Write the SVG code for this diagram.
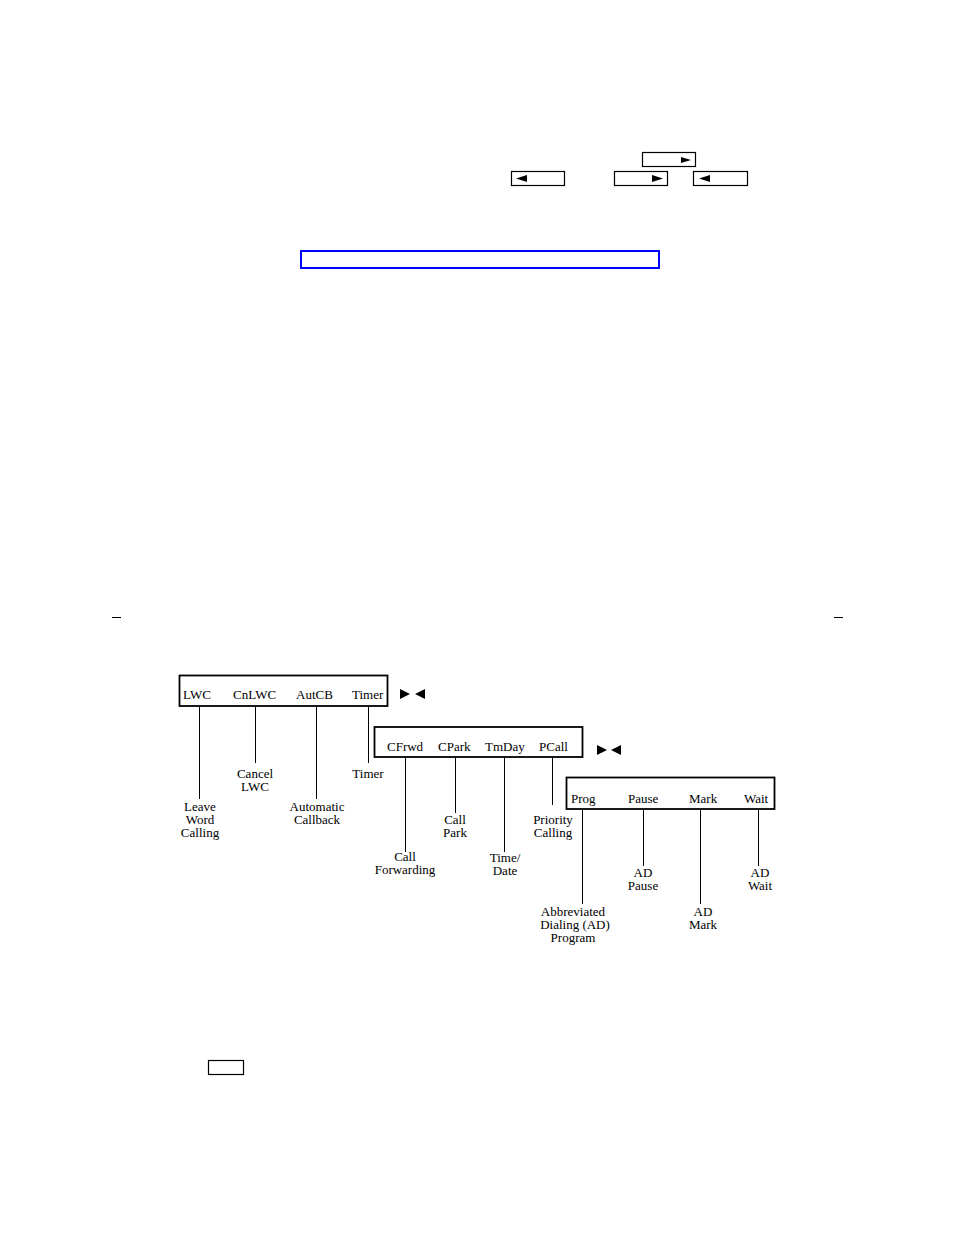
<svg xmlns="http://www.w3.org/2000/svg" width="954" height="1235" viewBox="0 0 954 1235">
<style>
.t{font-family:"Liberation Serif","Times New Roman",serif;font-size:13px;fill:#000}
.c{text-anchor:middle}
.box{fill:none;stroke:#000;stroke-width:1.8}
.sb{fill:none;stroke:#000;stroke-width:1.2}
.ln{stroke:#000;stroke-width:1;fill:none}
.tri{fill:#000}
</style>
<rect width="954" height="1235" fill="#fff"/>
<g id="top-keys">
<rect class="sb" x="642.5" y="152.5" width="53" height="14"/>
<polygon class="tri" points="681,157 691,160 681,163"/>
<rect class="sb" x="511.5" y="171.5" width="53" height="14"/>
<polygon class="tri" points="527,175 516,178.5 527,182"/>
<rect class="sb" x="614.5" y="171.5" width="53" height="14"/>
<polygon class="tri" points="652,175 663,178.5 652,182"/>
<rect class="sb" x="693.5" y="171.5" width="54" height="14"/>
<polygon class="tri" points="710,175 699,178.5 710,182"/>
</g>
<g id="blue-box"><rect x="301" y="251" width="358" height="17" fill="none" stroke="#0000ff" stroke-width="2"/></g>
<g id="marks">
<line class="ln" x1="112" y1="617.5" x2="121" y2="617.5"/>
<line class="ln" x1="834" y1="617.5" x2="843" y2="617.5"/>
</g>
<g id="boxA">
<rect class="box" x="179.5" y="675.5" width="208" height="30.5"/>
<text class="t" x="183" y="699">LWC</text>
<text class="t" x="233" y="699">CnLWC</text>
<text class="t" x="296" y="699">AutCB</text>
<text class="t" x="352" y="699">Timer</text>
<polygon class="tri" points="400,689 410,694 400,699"/>
<polygon class="tri" points="425,689 415,694 425,699"/>
</g>
<g id="boxB">
<rect class="box" x="374.5" y="727" width="208" height="30"/>
<text class="t" x="387" y="751">CFrwd</text>
<text class="t" x="438" y="751">CPark</text>
<text class="t" x="485" y="751">TmDay</text>
<text class="t" x="539" y="751">PCall</text>
<polygon class="tri" points="597,745 607,750 597,755"/>
<polygon class="tri" points="621,745 611,750 621,755"/>
</g>
<g id="boxC">
<rect class="box" x="566.5" y="777.5" width="208" height="31.5"/>
<text class="t" x="571" y="803">Prog</text>
<text class="t" x="628" y="803">Pause</text>
<text class="t" x="689" y="803">Mark</text>
<text class="t" x="744" y="803">Wait</text>
</g>
<g id="connectors">
<line class="ln" x1="199.5" y1="706" x2="199.5" y2="799"/>
<line class="ln" x1="255.5" y1="706" x2="255.5" y2="763"/>
<line class="ln" x1="316.5" y1="706" x2="316.5" y2="799"/>
<line class="ln" x1="368.5" y1="706" x2="368.5" y2="763"/>
<line class="ln" x1="405.5" y1="757" x2="405.5" y2="852"/>
<line class="ln" x1="455.5" y1="757" x2="455.5" y2="813"/>
<line class="ln" x1="504.5" y1="757" x2="504.5" y2="852"/>
<line class="ln" x1="552.5" y1="757" x2="552.5" y2="805"/>
<line class="ln" x1="582.5" y1="809" x2="582.5" y2="904"/>
<line class="ln" x1="643.5" y1="809" x2="643.5" y2="866"/>
<line class="ln" x1="700.5" y1="809" x2="700.5" y2="904"/>
<line class="ln" x1="758.5" y1="809" x2="758.5" y2="866"/>
</g>
<g id="labels">
<text class="t c" x="200" y="810.5">Leave<tspan x="200" dy="13">Word</tspan><tspan x="200" dy="13">Calling</tspan></text>
<text class="t c" x="255" y="778">Cancel<tspan x="255" dy="13">LWC</tspan></text>
<text class="t c" x="317" y="811">Automatic<tspan x="317" dy="13">Callback</tspan></text>
<text class="t c" x="368" y="778">Timer</text>
<text class="t c" x="405" y="860.5">Call<tspan x="405" dy="13">Forwarding</tspan></text>
<text class="t c" x="455" y="824">Call<tspan x="455" dy="13">Park</tspan></text>
<text class="t c" x="505" y="861.5">Time/<tspan x="505" dy="13">Date</tspan></text>
<text class="t c" x="553" y="824">Priority<tspan x="553" dy="13">Calling</tspan></text>
<text class="t c" x="573" y="915.5">Abbreviated<tspan x="575" dy="13">Dialing (AD)</tspan><tspan x="573" dy="13">Program</tspan></text>
<text class="t c" x="643" y="877">AD<tspan x="643" dy="13">Pause</tspan></text>
<text class="t c" x="703" y="916">AD<tspan x="703" dy="13">Mark</tspan></text>
<text class="t c" x="760" y="877">AD<tspan x="760" dy="13">Wait</tspan></text>
</g>
<g id="small-key"><rect class="sb" x="208.5" y="1060.5" width="35" height="14"/></g>
</svg>
